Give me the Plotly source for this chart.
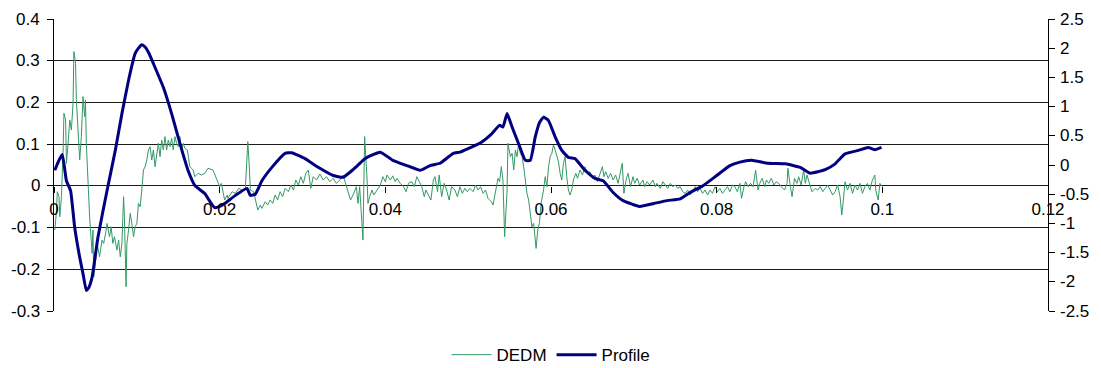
import plotly.graph_objects as go

# ---------------- data ----------------
dedm_x = [0.0001, 0.0003, 0.0004, 0.0006, 0.0007, 0.0009, 0.0011, 0.0012, 0.0014, 0.0015,
          0.0017, 0.0019, 0.0021, 0.0023, 0.0024, 0.0026, 0.0027, 0.0029, 0.0031, 0.0033,
          0.0035, 0.0037, 0.0038, 0.0039, 0.0041, 0.0043, 0.0046, 0.0047, 0.0048, 0.0050,
          0.0052, 0.0055, 0.0058, 0.0060, 0.0063, 0.0064, 0.0067, 0.0069, 0.0071, 0.0073,
          0.0076, 0.0078, 0.0080, 0.0082, 0.0084, 0.0085, 0.0087, 0.0088, 0.0090, 0.0092,
          0.0094, 0.0096, 0.0098, 0.0100, 0.0102, 0.0104, 0.0106, 0.0108, 0.0110, 0.0112,
          0.0114, 0.0116, 0.0118, 0.0120, 0.0122, 0.0124, 0.0126, 0.0128, 0.0130, 0.0132,
          0.0134, 0.0136, 0.0138, 0.0140, 0.0142, 0.0144, 0.0146, 0.0148, 0.0150, 0.0152,
          0.0154, 0.0156, 0.0158, 0.0161, 0.0164, 0.0168, 0.0170, 0.0174, 0.0178, 0.0182,
          0.0186, 0.0192, 0.0196, 0.0200, 0.0202, 0.0204, 0.0206, 0.0209, 0.0210, 0.0215,
          0.0219, 0.0223, 0.0227, 0.0231, 0.0233, 0.0234, 0.0236, 0.0237, 0.0241, 0.0244,
          0.0246, 0.0249, 0.0251, 0.0255, 0.0258, 0.0261, 0.0264, 0.0267, 0.0270, 0.0273,
          0.0276, 0.0279, 0.0283, 0.0286, 0.0289, 0.0292, 0.0295, 0.0298, 0.0301, 0.0304,
          0.0307, 0.0310, 0.0313, 0.0317, 0.0321, 0.0325, 0.0329, 0.0333, 0.0337, 0.0341,
          0.0345, 0.0349, 0.0353, 0.0355, 0.0358, 0.0361, 0.0365, 0.0367, 0.0369, 0.0371,
          0.0373, 0.0374, 0.0375, 0.0378, 0.0379, 0.0381, 0.0384, 0.0386, 0.0390, 0.0394,
          0.0397, 0.0400, 0.0402, 0.0406, 0.0409, 0.0412, 0.0414, 0.0418, 0.0422, 0.0425,
          0.0428, 0.0432, 0.0435, 0.0438, 0.0441, 0.0444, 0.0447, 0.0449, 0.0452, 0.0455,
          0.0458, 0.0460, 0.0463, 0.0465, 0.0468, 0.0471, 0.0474, 0.0477, 0.0480, 0.0484,
          0.0487, 0.0490, 0.0493, 0.0496, 0.0499, 0.0502, 0.0506, 0.0509, 0.0512, 0.0515,
          0.0518, 0.0521, 0.0524, 0.0528, 0.0530, 0.0532, 0.0534, 0.0536, 0.0538, 0.0540,
          0.0542, 0.0544, 0.0547, 0.0548, 0.0551, 0.0553, 0.0555, 0.0557, 0.0559, 0.0561,
          0.0563, 0.0565, 0.0567, 0.0569, 0.0571, 0.0573, 0.0575, 0.0577, 0.0579, 0.0581,
          0.0582, 0.0584, 0.0586, 0.0588, 0.0591, 0.0593, 0.0595, 0.0597, 0.0599, 0.0601,
          0.0603, 0.0605, 0.0607, 0.0609, 0.0611, 0.0613, 0.0615, 0.0617, 0.0619, 0.0621,
          0.0623, 0.0625, 0.0627, 0.0630, 0.0632, 0.0635, 0.0638, 0.0641, 0.0644, 0.0647,
          0.0650, 0.0653, 0.0656, 0.0659, 0.0662, 0.0664, 0.0666, 0.0669, 0.0672, 0.0675,
          0.0678, 0.0681, 0.0684, 0.0686, 0.0688, 0.0691, 0.0693, 0.0696, 0.0699, 0.0701,
          0.0704, 0.0707, 0.0711, 0.0713, 0.0716, 0.0719, 0.0723, 0.0726, 0.0728, 0.0732,
          0.0735, 0.0738, 0.0741, 0.0744, 0.0747, 0.0750, 0.0753, 0.0756, 0.0759, 0.0762,
          0.0765, 0.0768, 0.0771, 0.0774, 0.0777, 0.0780, 0.0783, 0.0786, 0.0789, 0.0792,
          0.0795, 0.0798, 0.0801, 0.0804, 0.0807, 0.0810, 0.0813, 0.0816, 0.0819, 0.0822,
          0.0825, 0.0828, 0.0830, 0.0833, 0.0835, 0.0838, 0.0841, 0.0844, 0.0847, 0.0850,
          0.0852, 0.0855, 0.0858, 0.0860, 0.0863, 0.0866, 0.0869, 0.0872, 0.0875, 0.0878,
          0.0882, 0.0885, 0.0886, 0.0889, 0.0891, 0.0894, 0.0897, 0.0899, 0.0902, 0.0905,
          0.0907, 0.0909, 0.0911, 0.0913, 0.0915, 0.0919, 0.0922, 0.0925, 0.0928, 0.0931,
          0.0934, 0.0937, 0.0940, 0.0943, 0.0946, 0.0949, 0.0951, 0.0953, 0.0955, 0.0958,
          0.0961, 0.0964, 0.0967, 0.0970, 0.0973, 0.0976, 0.0979, 0.0982, 0.0985, 0.0988,
          0.0991, 0.0992, 0.0995, 0.0997, 0.1000]

dedm_y = [-0.106, -0.060, -0.014, -0.026, -0.074, -0.026, 0.086, 0.174, 0.158, 0.054,
          0.100, 0.158, 0.134, 0.198, 0.322, 0.294, 0.206, 0.142, 0.062, 0.118,
          0.214, 0.166, 0.206, 0.102, 0.006, -0.074, -0.162, -0.106, -0.218, -0.186,
          -0.138, -0.170, -0.130, -0.138, -0.106, -0.090, -0.122, -0.098, -0.138, -0.122,
          -0.154, -0.130, -0.170, -0.138, -0.026, -0.074, -0.242, -0.138, -0.106, -0.066,
          -0.090, -0.122, -0.098, -0.090, -0.042, -0.050, -0.010, 0.038, 0.046, 0.062,
          0.086, 0.094, 0.062, 0.086, 0.046, 0.078, 0.102, 0.070, 0.110, 0.086,
          0.118, 0.086, 0.110, 0.094, 0.114, 0.086, 0.118, 0.102, 0.094, 0.118,
          0.086, 0.102, 0.090, 0.086, 0.046, 0.038, 0.022, 0.030, 0.026, 0.030,
          0.042, 0.038, 0.018, -0.002, 0.006, -0.014, -0.034, -0.022, -0.030, -0.014,
          -0.018, -0.006, -0.010, -0.006, 0.062, 0.106, 0.038, -0.010, -0.014, -0.042,
          -0.058, -0.046, -0.054, -0.038, -0.046, -0.034, -0.042, -0.022, -0.034, -0.014,
          -0.026, -0.006, -0.014, 0.002, -0.010, 0.014, 0.002, 0.022, 0.006, 0.030,
          0.038, -0.006, 0.022, 0.014, 0.028, 0.014, 0.022, 0.010, 0.018, 0.006,
          0.014, 0.026, -0.002, -0.018, -0.034, -0.022, -0.002, -0.042, -0.002, -0.066,
          -0.130, -0.002, 0.118, 0.014, -0.042, -0.026, -0.010, -0.022, -0.010, 0.002,
          0.022, 0.010, 0.026, 0.014, 0.024, 0.010, 0.018, 0.006, -0.002, -0.014,
          0.006, 0.010, -0.002, 0.022, 0.010, -0.002, -0.026, -0.010, -0.022, -0.034,
          0.014, 0.022, -0.014, 0.026, -0.026, 0.006, -0.010, -0.034, -0.002, -0.010,
          -0.026, -0.002, -0.018, -0.006, -0.014, -0.006, -0.014, 0.002, -0.010, -0.002,
          -0.018, -0.010, -0.030, -0.038, -0.046, -0.026, -0.010, 0.018, 0.010, 0.046,
          0.014, -0.122, -0.010, 0.102, 0.070, 0.078, 0.038, 0.086, 0.070, 0.102,
          0.078, 0.070, 0.046, 0.006, -0.018, -0.034, -0.074, -0.098, -0.090, -0.126,
          -0.150, -0.106, -0.090, -0.042, -0.010, 0.022, -0.002, 0.046, 0.070, 0.078,
          0.098, 0.086, 0.070, 0.058, 0.030, 0.014, 0.054, 0.070, 0.022, -0.010,
          -0.022, -0.010, 0.014, 0.030, 0.018, 0.038, 0.026, 0.046, 0.030, 0.034,
          0.018, 0.026, 0.010, 0.030, 0.046, 0.022, 0.034, 0.018, 0.030, 0.014,
          0.026, 0.006, 0.034, 0.054, -0.018, 0.018, 0.030, -0.002, 0.022, 0.006,
          0.018, 0.002, 0.014, -0.002, 0.010, 0.002, 0.014, -0.002, 0.006, -0.006,
          0.010, 0.002, -0.006, 0.006, -0.002, 0.002, -0.006, -0.002, -0.014, -0.018,
          -0.010, -0.022, -0.014, -0.002, -0.014, -0.006, -0.018, -0.010, -0.022, -0.010,
          -0.018, -0.002, -0.014, -0.006, -0.018, -0.010, -0.002, -0.014, 0.002, -0.002,
          -0.014, 0.006, -0.030, -0.002, 0.010, -0.002, 0.006, -0.002, 0.038, -0.010,
          0.006, 0.018, -0.002, 0.014, 0.006, 0.018, 0.002, 0.010, 0.006, -0.002,
          -0.010, 0.006, 0.042, -0.002, -0.026, 0.018, 0.006, 0.022, 0.002, 0.038,
          0.006, 0.026, 0.014, -0.002, -0.014, -0.006, -0.010, -0.002, -0.014, -0.006,
          0.002, -0.010, -0.022, -0.014, 0.002, -0.026, -0.070, -0.034, 0.010, -0.010,
          0.006, -0.018, 0.002, -0.010, 0.006, -0.018, -0.002, 0.006, -0.010, 0.014,
          0.026, -0.010, -0.034, 0.006, -0.002]

profile_x = [0.0001, 0.0005, 0.0010, 0.0015, 0.0020, 0.0025, 0.0031, 0.0035, 0.0039, 0.0042,
             0.0046, 0.0053, 0.0064, 0.0074, 0.0082, 0.0090, 0.0098, 0.0102, 0.0106, 0.0110,
             0.0114, 0.0122, 0.0132, 0.0142, 0.0152, 0.0162, 0.0170, 0.0182, 0.0188, 0.0194,
             0.0200, 0.0206, 0.0219, 0.0233, 0.0237, 0.0243, 0.0251, 0.0263, 0.0279, 0.0287,
             0.0303, 0.0319, 0.0337, 0.0349, 0.0361, 0.0373, 0.0378, 0.0394, 0.0409, 0.0426,
             0.0442, 0.0454, 0.0466, 0.0482, 0.0490, 0.0500, 0.0516, 0.0528, 0.0538, 0.0542,
             0.0547, 0.0553, 0.0561, 0.0569, 0.0575, 0.0581, 0.0586, 0.0591, 0.0597, 0.0605,
             0.0613, 0.0621, 0.0629, 0.0641, 0.0653, 0.0663, 0.0675, 0.0687, 0.0707, 0.0724,
             0.0740, 0.0756, 0.0768, 0.0784, 0.0800, 0.0816, 0.0828, 0.0842, 0.0862, 0.0883,
             0.0901, 0.0913, 0.0931, 0.0943, 0.0955, 0.0971, 0.0983, 0.0991, 0.0999]

profile_y = [-0.09, 0.05, 0.18, -0.27, -0.44, -1.07, -1.58, -1.86, -2.15, -2.10,
             -1.92, -1.24, -0.44, 0.25, 0.88, 1.45, 1.91, 2.00, 2.06, 2.02,
             1.93, 1.67, 1.33, 0.88, 0.37, -0.10, -0.35, -0.49, -0.62, -0.73,
             -0.71, -0.66, -0.52, -0.40, -0.52, -0.50, -0.27, -0.04, 0.20, 0.21,
             0.11, -0.04, -0.18, -0.21, -0.08, 0.08, 0.13, 0.22, 0.08, -0.01,
             -0.09, -0.01, 0.03, 0.20, 0.22, 0.28, 0.39, 0.53, 0.68, 0.65,
             0.88, 0.65, 0.36, 0.08, 0.08, 0.48, 0.72, 0.82, 0.76, 0.48,
             0.25, 0.13, 0.11, -0.09, -0.23, -0.27, -0.47, -0.61, -0.71, -0.66,
             -0.61, -0.58, -0.47, -0.35, -0.18, -0.01, 0.05, 0.08, 0.03, 0.02,
             -0.04, -0.14, -0.08, 0.02, 0.19, 0.25, 0.30, 0.26, 0.30]

x_tick_vals = [0, 0.02, 0.04, 0.06, 0.08, 0.10, 0.12]
x_tick_text = ["0", "0.02", "0.04", "0.06", "0.08", "0.1", "0.12"]
left_tick_vals = [-0.3, -0.2, -0.1, 0.0, 0.1, 0.2, 0.3, 0.4]
left_tick_text = ["-0.3", "-0.2", "-0.1", "0", "0.1", "0.2", "0.3", "0.4"]
right_tick_vals = [-2.5, -2.0, -1.5, -1.0, -0.5, 0.0, 0.5, 1.0, 1.5, 2.0, 2.5]
right_tick_text = ["-2.5", "-2", "-1.5", "-1", "-0.5", "0", "0.5", "1", "1.5", "2", "2.5"]

# ---------------- figure ----------------
FONT = dict(family="Liberation Sans, Arial, sans-serif", size=17, color="#000000")

fig = go.Figure()
fig.add_trace(go.Scatter(x=dedm_x, y=dedm_y, mode="lines", name="DEDM",
                         line=dict(color="#339966", width=1), yaxis="y"))
fig.add_trace(go.Scatter(x=profile_x, y=profile_y, mode="lines", name="Profile",
                         line=dict(color="#000080", width=3, shape="spline", smoothing=0.4),
                         yaxis="y2"))

# y tick labels written as annotations so their distance to the axes matches
annotations = []
for v, t in zip(left_tick_vals, left_tick_text):
    annotations.append(dict(xref="paper", x=0, yref="y", y=v, text=t, showarrow=False,
                            xanchor="right", yanchor="middle", xshift=-13,
                            font=FONT, borderpad=0))
for v, t in zip(right_tick_vals, right_tick_text):
    annotations.append(dict(xref="paper", x=1, yref="y2", y=v, text=t, showarrow=False,
                            xanchor="left", yanchor="middle", xshift=11,
                            font=FONT, borderpad=0))

fig.update_layout(
    width=1101, height=368,
    margin=dict(l=54, r=53, t=19, b=57, autoexpand=False),
    paper_bgcolor="white", plot_bgcolor="white",
    font=FONT,
    showlegend=True,
    legend=dict(orientation="h", x=0.5, xanchor="center",
                yref="container", y=0.035, yanchor="middle",
                font=dict(family=FONT["family"], size=17, color="#000000"),
                bgcolor="rgba(0,0,0,0)", traceorder="normal", itemwidth=40),
    xaxis=dict(range=[0, 0.12], tickvals=x_tick_vals, ticktext=x_tick_text,
               showgrid=False, zeroline=False, showline=False,
               ticks="outside", ticklen=6, tickcolor="#000000",
               anchor="free", position=3/7, tickfont=FONT, automargin=False,
               ticklabelstandoff=2),
    yaxis=dict(range=[-0.3, 0.4], tickvals=left_tick_vals, showticklabels=False,
               showgrid=True, gridcolor="#1a1a1a", gridwidth=1, zeroline=False,
               showline=True, linecolor="#000000", linewidth=1,
               ticks="outside", ticklen=6, tickcolor="#000000",
               automargin=False),
    yaxis2=dict(range=[-2.5, 2.5], tickvals=right_tick_vals, showticklabels=False,
                overlaying="y", side="right", showgrid=False, zeroline=False,
                showline=True, linecolor="#000000", linewidth=1,
                ticks="outside", ticklen=6, tickcolor="#000000",
                automargin=False),
    annotations=annotations,
)

fig.write_html("out.html")
